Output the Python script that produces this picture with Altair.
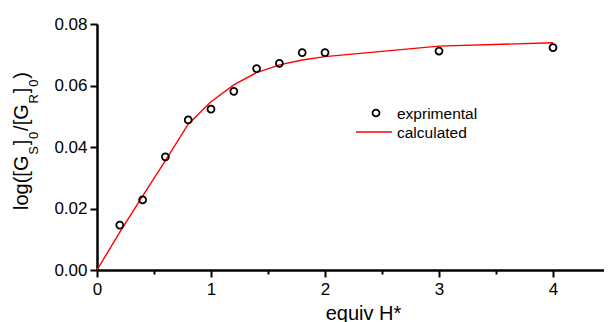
import altair as alt
import pandas as pd

# ---- data ----
x_exp = [0.2, 0.4, 0.6, 0.8, 1.0, 1.2, 1.4, 1.6, 1.8, 2.0, 3.0, 4.0]
y_exp = [0.0146, 0.0228, 0.0368, 0.0488, 0.0523, 0.0581, 0.0655, 0.0672,
         0.0707, 0.0707, 0.0712, 0.0723]
x_calc = [0.0, 0.2, 0.4, 0.6, 0.8, 1.0, 1.2, 1.4, 1.6, 1.8, 2.0, 3.0, 4.0]
y_calc = [0.0, 0.0123, 0.0240, 0.0356, 0.0474, 0.0547, 0.0602, 0.0642,
          0.0667, 0.0683, 0.0694, 0.0728, 0.0739]
x_ticks = [0, 0.5, 1, 1.5, 2, 2.5, 3, 3.5, 4]
y_ticks = [0.0, 0.01, 0.02, 0.03, 0.04, 0.05, 0.06, 0.07, 0.08]
legend_labels = ["exprimental", "calculated"]
x_title = "equiv H*"
y_title_parts = [("log([G", False), ("S", True), ("]", False), ("0", True),
                 ("/[G", False), ("R", True), ("]", False), ("0", True), (")", False)]

FONT = "Liberation Sans"
W, H = 507, 246
X_MAX = W / 114.0

exp_df = pd.DataFrame({"x": x_exp, "y": y_exp})
calc_df = pd.DataFrame({"x": x_calc, "y": y_calc})

xscale = alt.Scale(domain=[0, X_MAX], nice=False, zero=False)
yscale = alt.Scale(domain=[0, 0.08], nice=False)

xaxis = alt.Axis(
    values=x_ticks,
    labelExpr="datum.value % 1 === 0 ? format(datum.value, 'd') : ''",
    tickSize={"condition": {"test": "datum.value % 1 === 0", "value": 7}, "value": 4},
    tickWidth=2, tickColor="black", domainWidth=2.5, domainColor="black",
    labelFont=FONT, labelFontSize=17, labelColor="black", labelPadding=4,
    labelFlush=False, labelOverlap=False, grid=False,
    title=x_title, titleFont=FONT, titleFontSize=20, titleFontWeight="normal",
    titleColor="black", titlePadding=6, titleX=266, titleAlign="center",
)
yaxis = alt.Axis(
    values=y_ticks,
    labelExpr="round(datum.value*100) % 2 === 0 ? format(datum.value, '.2f') : ''",
    tickSize={"condition": {"test": "round(datum.value*100) % 2 === 0", "value": 7}, "value": 4},
    tickWidth=2, tickColor="black", domainWidth=2.5, domainColor="black",
    labelFont=FONT, labelFontSize=17, labelColor="black", labelPadding=3,
    labelFlush=False, labelOverlap=False, grid=False, title=None,
)

line = alt.Chart(calc_df).mark_line(color="#ff0000", strokeWidth=1.4).encode(
    x=alt.X("x:Q", scale=xscale, axis=xaxis),
    y=alt.Y("y:Q", scale=yscale, axis=yaxis),
)
points = alt.Chart(exp_df).mark_point(
    shape="circle", filled=False, color="black", size=48, strokeWidth=1.8, opacity=1
).encode(
    x=alt.X("x:Q", scale=xscale),
    y=alt.Y("y:Q", scale=yscale),
)

one = pd.DataFrame({"k": [0]})
leg_pt = alt.Chart(one).mark_point(
    shape="circle", filled=False, color="black", size=48, strokeWidth=1.8, opacity=1
).encode(x=alt.value(279), y=alt.value(89))
leg_line = alt.Chart(one).mark_rule(color="#ff0000", strokeWidth=1.4).encode(
    x=alt.value(259), x2=alt.value(295), y=alt.value(108))
leg_txt = []
for i, lab in enumerate(legend_labels):
    leg_txt.append(
        alt.Chart(pd.DataFrame({"t": [lab]})).mark_text(
            align="left", baseline="middle", font=FONT, fontSize=15.5, color="black"
        ).encode(x=alt.value(300), y=alt.value(89.5 + 19.5 * i), text="t:N")
    )

# y title built from pieces (subscripts), advanced by Arial glyph widths
widths = {"l": 222, "o": 556, "g": 556, "(": 333, "[": 278, "G": 778, "]": 278,
          "/": 278, ")": 333, "S": 667, "R": 722, "0": 556}
main_fs, sub_fs = 20, 13
ypos = 186.0
title_layers = []
for txt, sub in y_title_parts:
    fs = sub_fs if sub else main_fs
    bx = -59 if sub else -69
    title_layers.append(
        alt.Chart(pd.DataFrame({"t": [txt]})).mark_text(
            align="left", baseline="alphabetic", angle=270, font=FONT,
            fontSize=fs, color="black"
        ).encode(x=alt.value(bx), y=alt.value(ypos), text="t:N")
    )
    ypos -= sum(widths[c] for c in txt) * fs / 1000.0 + 0.8

chart = alt.layer(line, points, leg_pt, leg_line, *leg_txt, *title_layers).properties(
    width=W, height=H,
    autosize=alt.AutoSizeParams(type="none"),
    padding={"left": 89, "top": 16, "right": 0, "bottom": 52},
    background="white",
).configure_view(stroke=None)

chart.save("out.html", embed_options={"renderer": "svg", "actions": False})
